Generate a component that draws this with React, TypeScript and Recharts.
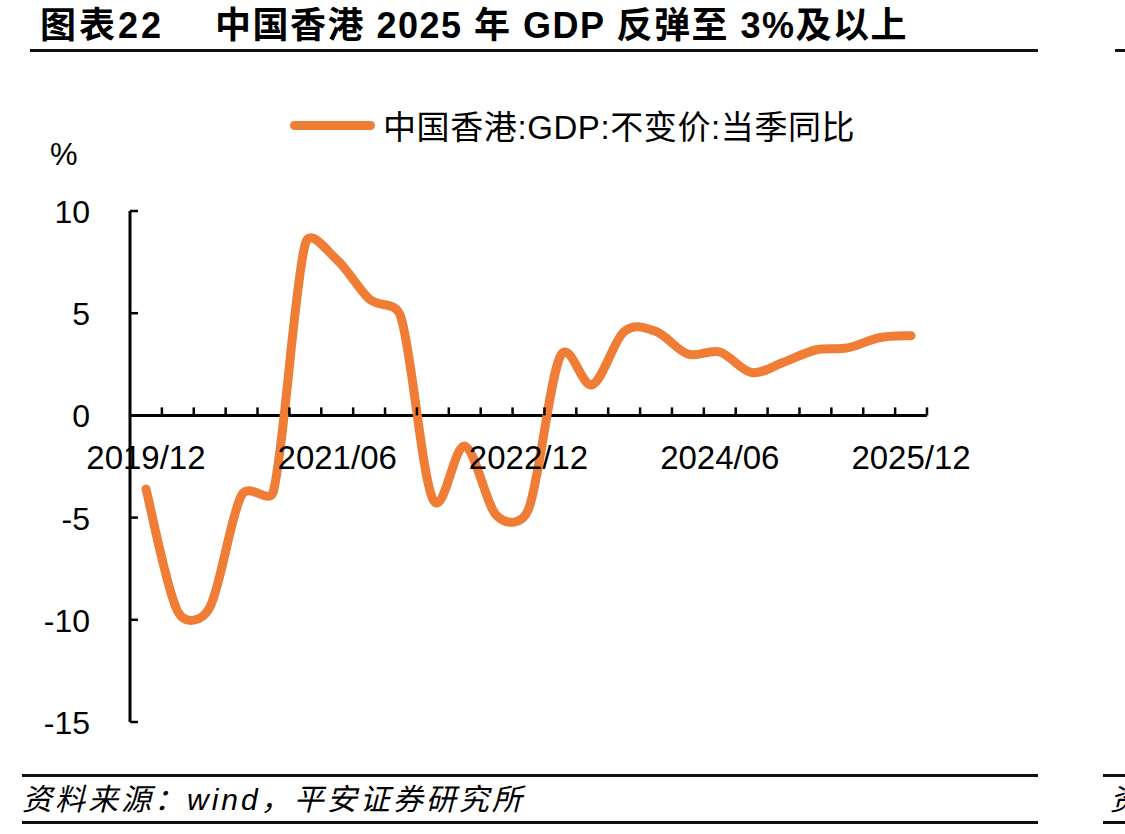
import React from "react";
import { LineChart, Line, XAxis, YAxis, ReferenceLine } from "recharts";

// quarterly categories, 2019Q4 .. 2025Q4
const quarters = [
  "2019/12", "2020/03", "2020/06", "2020/09", "2020/12",
  "2021/03", "2021/06", "2021/09", "2021/12",
  "2022/03", "2022/06", "2022/09", "2022/12",
  "2023/03", "2023/06", "2023/09", "2023/12",
  "2024/03", "2024/06", "2024/09", "2024/12",
  "2025/03", "2025/06", "2025/09", "2025/12",
];

// 中国香港:GDP:不变价:当季同比 (%)
const gdpYoy = [
  -3.6, -9.6, -9.4, -3.9, -3.7,
  8.4, 7.6, 5.7, 4.8,
  -4.1, -1.5, -4.9, -4.6,
  2.9, 1.5, 4.1, 4.1,
  3.0, 3.1, 2.1, 2.6,
  3.2, 3.3, 3.8, 3.9,
];

const yTicks = [-15, -10, -5, 0, 5, 10];
const labelEvery = 6;

const data = quarters.map((q, i) => ({ idx: i, label: q, value: gdpYoy[i] }));

const W = 1125;
const H = 834;
// axes take 1px each, so the plot area runs x 130..927, y 211..722
const M = { top: 211, right: 198, bottom: 111, left: 129 };
const AXIS_PX = 1;
const Y_MIN = -15;
const Y_MAX = 10;
const plotH = H - M.top - M.bottom - AXIS_PX;
const zeroY = M.top + (plotH * Y_MAX) / (Y_MAX - Y_MIN);

// boundaries between quarters get tick marks, every 6th quarter gets a label
const boundaryTicks = quarters.map((_, i) => i + 0.5);
const labelTicks = quarters.map((_, i) => i).filter((i) => i % labelEvery === 0);

const NUM_FONT = '"Liberation Sans", Arial, "Noto Sans CJK SC", sans-serif';
const ORANGE = "#EF7D36";

// Excel-like smoothing: Catmull-Rom arms, clipped to half of the adjacent segment
const smoothCurve = (context: any) => {
  let pts: [number, number][] = [];
  const arm = (from: [number, number], dx: number, dy: number, limit: number) => {
    const len = Math.hypot(dx, dy);
    const k = len > limit && len > 0 ? limit / len : 1;
    return [from[0] + dx * k, from[1] + dy * k];
  };
  return {
    areaStart() {},
    areaEnd() {},
    lineStart() {
      pts = [];
    },
    point(x: number, y: number) {
      pts.push([+x, +y]);
    },
    lineEnd() {
      if (!pts.length) return;
      context.moveTo(pts[0][0], pts[0][1]);
      for (let i = 0; i < pts.length - 1; i++) {
        const p0 = pts[i - 1] ?? pts[i];
        const p1 = pts[i];
        const p2 = pts[i + 1];
        const p3 = pts[i + 2] ?? p2;
        const half = Math.hypot(p2[0] - p1[0], p2[1] - p1[1]) / 2;
        const c1 = arm(p1, (p2[0] - p0[0]) / 6, (p2[1] - p0[1]) / 6, half);
        const c2 = arm(p2, -(p3[0] - p1[0]) / 6, -(p3[1] - p1[1]) / 6, half);
        context.bezierCurveTo(c1[0], c1[1], c2[0], c2[1], p2[0], p2[1]);
      }
    },
  };
};

const XTick = (props: any) => {
  const { x, payload } = props;
  const v = payload.value as number;
  if (Number.isInteger(v)) {
    return (
      <text
        x={x}
        y={zeroY + 42}
        textAnchor="middle"
        dominantBaseline="central"
        fontSize={33}
        fontFamily={NUM_FONT}
        fill="#000"
      >
        {quarters[v]}
      </text>
    );
  }
  return <line x1={x} x2={x} y1={zeroY} y2={zeroY - 8} stroke="#000" strokeWidth={2.5} />;
};

const YTick = (props: any) => {
  const { x, y, payload } = props;
  return (
    <g>
      <line x1={x} x2={x + 8} y1={y} y2={y} stroke="#000" strokeWidth={2.5} />
      <text
        x={x - 40}
        y={y + 1}
        textAnchor="end"
        dominantBaseline="central"
        fontSize={32}
        fontFamily={NUM_FONT}
        fill="#000"
      >
        {payload.value}
      </text>
    </g>
  );
};

const abs = (left: number, top: number, extra: React.CSSProperties = {}): React.CSSProperties => ({
  position: "absolute",
  left,
  top,
  whiteSpace: "nowrap",
  ...extra,
});

const rule = (left: number, top: number, width: number): React.CSSProperties => ({
  position: "absolute",
  left,
  top,
  width,
  height: 3,
  background: "#111",
});

const App: React.FC = () => {
  return (
    <div
      style={{
        position: "absolute",
        left: 0,
        top: 0,
        width: W,
        height: H,
        overflow: "hidden",
        background: "#fff",
        color: "#000",
        fontFamily: NUM_FONT,
      }}
    >
      {/* title */}
      <div style={abs(40, 6, { fontSize: 36, lineHeight: "40px", fontWeight: 700, letterSpacing: 3 })}>
        图表22
      </div>
      <div style={abs(215, 6, { fontSize: 36, lineHeight: "40px", fontWeight: 700, letterSpacing: 1.5 })}>
        中国香港 2025 年 GDP 反弹至 3%及以上
      </div>
      <div style={rule(30, 49, 1008)} />
      <div style={rule(1115, 49, 20)} />

      {/* legend */}
      <div
        style={abs(290, 121, {
          width: 85,
          height: 9,
          borderRadius: 5,
          background: ORANGE,
        })}
      />
      <div style={abs(383, 108, { fontSize: 33, lineHeight: "40px", letterSpacing: 0.6 })}>
        中国香港:GDP:不变价:当季同比
      </div>

      {/* unit */}
      <div style={abs(50, 137, { fontSize: 31, lineHeight: "36px" })}>%</div>

      <div style={abs(0, 0)}>
        <LineChart width={W} height={H} data={data} margin={M}>
          <XAxis
            dataKey="idx"
            type="number"
            domain={[-0.5, quarters.length - 0.5]}
            ticks={[...boundaryTicks, ...labelTicks]}
            interval={0}
            height={AXIS_PX}
            axisLine={false}
            tickLine={false}
            tick={<XTick />}
          />
          <YAxis
            type="number"
            domain={[Y_MIN, Y_MAX]}
            ticks={yTicks}
            interval={0}
            width={AXIS_PX}
            tickSize={0}
            tickMargin={0}
            tickLine={false}
            axisLine={{ stroke: "#000", strokeWidth: 3 }}
            tick={<YTick />}
          />
          <ReferenceLine y={0} stroke="#000" strokeWidth={3} />
          <Line
            dataKey="value"
            type={smoothCurve as any}
            stroke={ORANGE}
            strokeWidth={9}
            strokeLinecap="round"
            strokeLinejoin="round"
            dot={false}
            activeDot={false}
            isAnimationActive={false}
          />
        </LineChart>
      </div>

      {/* source */}
      <div style={rule(22, 774, 1016)} />
      <div
        style={abs(22, 782, {
          fontSize: 30,
          lineHeight: "36px",
          fontStyle: "italic",
          letterSpacing: 3,
        })}
      >
        资料来源：wind，平安证券研究所
      </div>
      <div style={rule(22, 821, 1016)} />
      <div style={rule(1103, 774, 30)} />
      <div style={abs(1110, 782, { fontSize: 30, lineHeight: "36px", fontStyle: "italic" })}>资</div>
      <div style={rule(1103, 821, 30)} />
    </div>
  );
};

export default App;
